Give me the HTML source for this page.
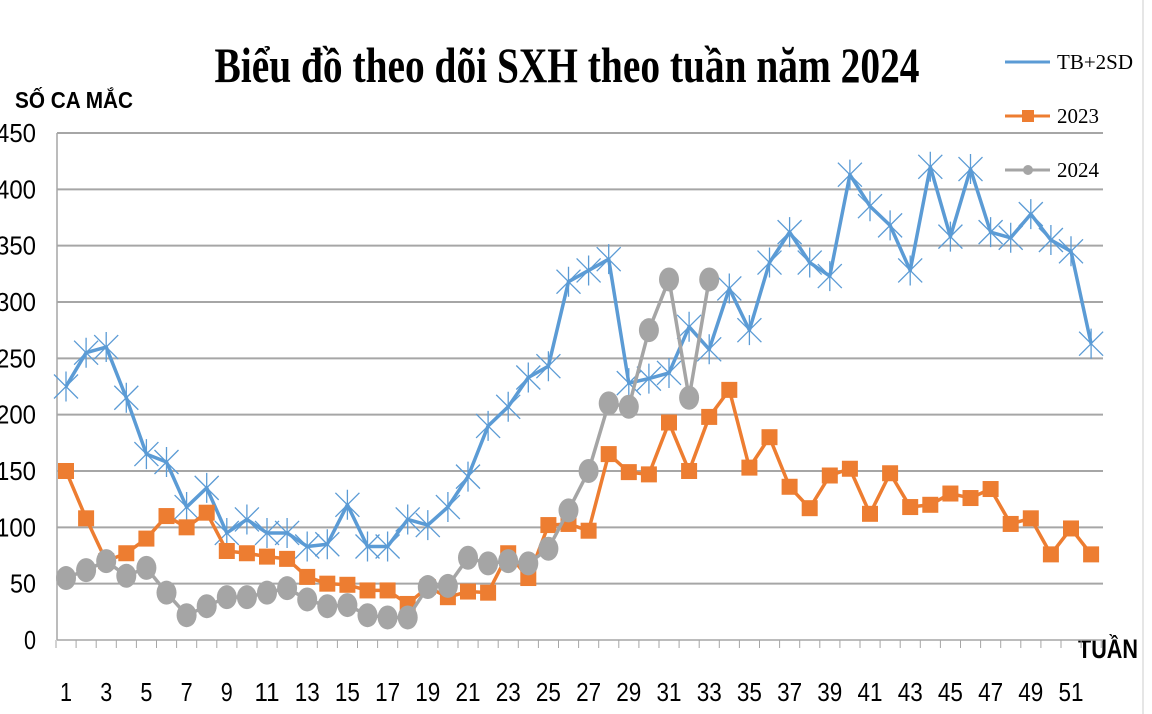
<!DOCTYPE html>
<html><head><meta charset="utf-8"><style>
html,body{margin:0;padding:0;background:#fff;width:1152px;height:714px;overflow:hidden}
svg{display:block}
</style></head><body>
<svg id="c" width="1152" height="714" xmlns="http://www.w3.org/2000/svg" font-family="Liberation Sans, sans-serif">
<rect width="1152" height="714" fill="#fff"/>
<line x1="1143" y1="0" x2="1143" y2="714" stroke="#e6e6e6" stroke-width="2"/>
<text x="567" y="82" text-anchor="middle" font-family="Liberation Serif, serif" font-weight="bold" font-size="50" textLength="705" lengthAdjust="spacingAndGlyphs">Biểu đồ theo dõi SXH theo tuần năm 2024</text>
<text x="15" y="108" font-weight="bold" font-size="23" textLength="118" lengthAdjust="spacingAndGlyphs">SỐ CA MẮC</text>
<text x="1078" y="658" font-weight="bold" font-size="27" textLength="60" lengthAdjust="spacingAndGlyphs">TUẦN</text>
<g id="grid"></g>
<g id="series"></g>
<g id="legend" font-family="Liberation Serif, serif" font-size="21">
<line x1="1005" y1="62" x2="1050" y2="62" stroke="#5b9bd5" stroke-width="3"/>
<text x="1057" y="69">TB+2SD</text>
<line x1="1005" y1="116" x2="1050" y2="116" stroke="#ed7d31" stroke-width="3"/>
<rect x="1022" y="110" width="12" height="12" fill="#ed7d31"/>
<text x="1057" y="123">2023</text>
<line x1="1005" y1="170" x2="1050" y2="170" stroke="#a5a5a5" stroke-width="3"/>
<circle cx="1028" cy="170" r="5" fill="#a5a5a5"/>
<text x="1057" y="177">2024</text>
</g>
</svg>
<script>
const NS="http://www.w3.org/2000/svg";
const X=w=>66+(w-1)*20.1, Y=v=>640-v*1.1267;
function el(t,a,p){const e=document.createElementNS(NS,t);for(const k in a)e.setAttribute(k,a[k]);p.appendChild(e);return e;}
const g=document.getElementById('grid'), s=document.getElementById('series');
for(let v=0;v<=450;v+=50){
 const y=Y(v);
 if(v>0) el('line',{x1:57,y1:y,x2:1103,y2:y,stroke:'#a6a6a6','stroke-width':2},g);
 const t=el('text',{x:36,y:y+9,'text-anchor':'end','font-size':26,textLength:(v<100?(v==0?12:26):40),lengthAdjust:'spacingAndGlyphs'},g);t.textContent=v;
}
el('line',{x1:57,y1:133,x2:57,y2:640,stroke:'#a6a6a6','stroke-width':1.5},g);
el('line',{x1:57,y1:640,x2:1103,y2:640,stroke:'#a6a6a6','stroke-width':1.5},g);
for(let w=0;w<=52;w++){const x=56+w*20.1;el('line',{x1:x,y1:640,x2:x,y2:648,stroke:'#a6a6a6','stroke-width':1},g);}
for(let w=1;w<=51;w+=2){const t=el('text',{x:X(w),y:701,'text-anchor':'middle','font-size':26,textLength:w<10?12:25,lengthAdjust:'spacingAndGlyphs'},g);t.textContent=w;}
const tb=[225,255,260,215,165,158,118,135,95,107,95,95,83,85,120,83,83,107,102,118,145,190,207,233,243,318,328,338,228,232,237,278,258,312,275,335,362,335,323,413,385,368,328,420,358,418,362,357,378,355,345,263];
const y23=[150,108,70,77,90,110,100,113,79,77,74,72,56,50,49,44,44,32,47,38,43,42,77,55,102,103,97,165,149,147,193,150,198,222,153,180,136,117,146,152,112,148,118,120,130,126,134,103,108,76,99,76];
const y24=[55,62,70,57,64,42,22,30,38,38,42,46,36,30,31,22,20,20,47,48,73,68,70,68,81,115,150,210,207,275,320,215,320];
function line(d,c){el('polyline',{points:d.map((v,i)=>X(i+1)+','+Y(v)).join(' '),fill:'none',stroke:c,'stroke-width':3.5,'stroke-linejoin':'round'},s);}
line(tb,'#5b9bd5');
tb.forEach((v,i)=>{const x=X(i+1),y=Y(v),r=12;
 el('path',{d:`M${x-r} ${y-r}L${x+r} ${y+r}M${x-r} ${y+r}L${x+r} ${y-r}M${x} ${y-r-3}L${x} ${y+r+3}`,stroke:'#5b9bd5','stroke-width':1.3,fill:'none'},s);});
line(y23,'#ed7d31');
y23.forEach((v,i)=>el('rect',{x:X(i+1)-8,y:Y(v)-8,width:16,height:16,fill:'#ed7d31'},s));
line(y24,'#a5a5a5');
y24.forEach((v,i)=>el('ellipse',{cx:X(i+1),cy:Y(v),rx:10,ry:12,fill:'#a5a5a5'},s));
</script>
</body></html>
